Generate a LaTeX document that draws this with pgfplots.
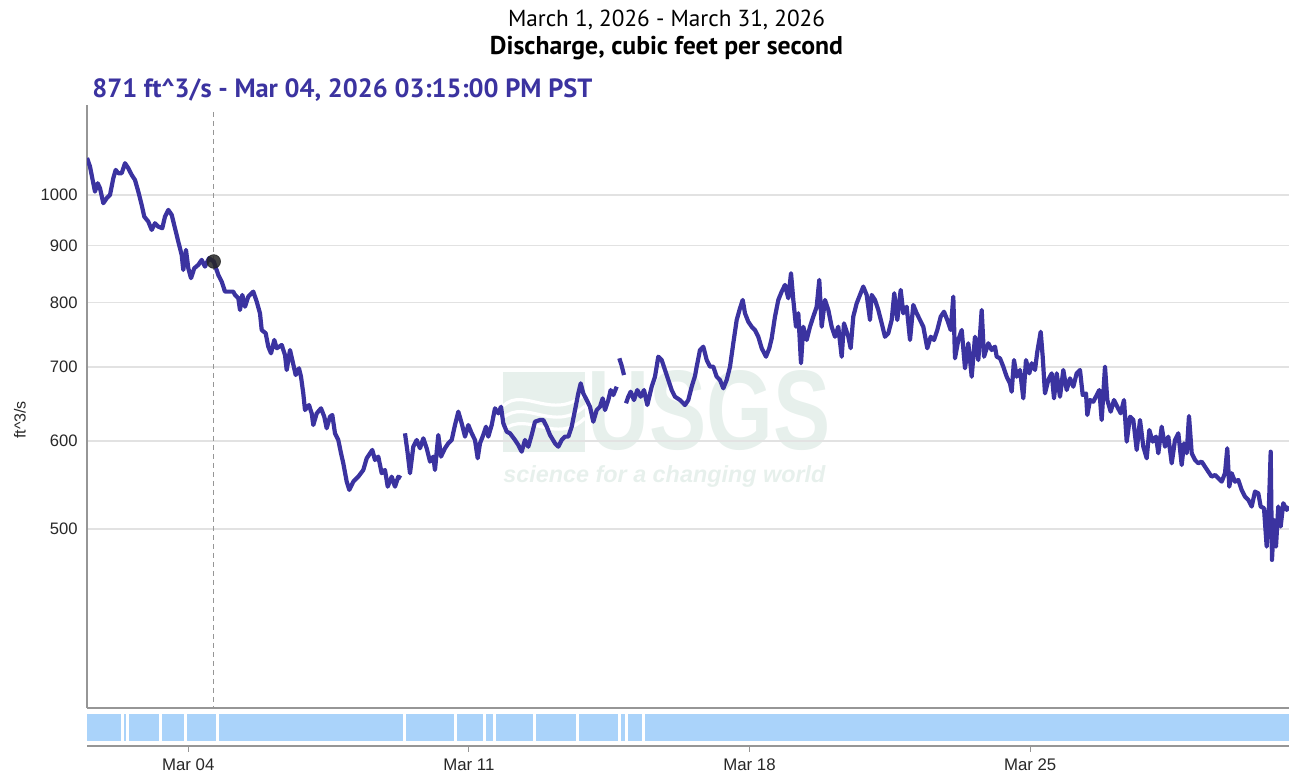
\documentclass[border=0pt]{standalone}
\usepackage{graphicx}
\usepackage{pgfplots}
\pgfplotsset{compat=1.18}
\usepackage{fontspec}
\setmainfont{Liberation Sans}
\newfontfamily\titlefont{PT Sans}
\definecolor{usgsline}{RGB}{59,51,160}
\definecolor{stripblue}{RGB}{170,211,250}
\definecolor{gridgray}{RGB}{226,226,226}
\definecolor{axisgray}{RGB}{150,150,150}
\definecolor{wm}{RGB}{231,240,236}
\definecolor{ticktext}{RGB}{40,40,40}

\begin{document}
\begin{tikzpicture}[x=1pt,y=1pt]
\path[use as bounding box] (0,0) rectangle (644.5,387);
% ---- watermark (background decoration) ----
\fill[wm] (251.5,161) rectangle (292.5,201);
\draw[white, line width=1.6pt] (251.5,184) .. controls (262,194) and (276,176) .. (292.5,190);
\draw[white, line width=1.6pt] (251.5,178) .. controls (263,188) and (277,170) .. (292.5,184);
\draw[white, line width=1.6pt] (251.5,172) .. controls (264,182) and (278,164) .. (292.5,178);
\node[anchor=south west, inner sep=0pt, text=wm] at (293.5,161.5) {\resizebox{121.5pt}{39.5pt}{\bfseries USGS}};
\node[anchor=north west, inner sep=0pt, text=wm] at (251.5,154.5) {\resizebox{161pt}{!}{\bfseries\itshape science for a changing world}};
% ---- titles ----
\node[inner sep=0pt] at (333.25,377) {\resizebox{158.5pt}{!}{\titlefont March 1, 2026 - March 31, 2026}};
\node[inner sep=0pt] at (333.25,363) {\resizebox{176.5pt}{!}{\titlefont\bfseries Discharge, cubic feet per second}};
\node[anchor=west, inner sep=0pt] at (46,342) {\resizebox{250pt}{!}{\titlefont\bfseries\color{usgsline}871 ft\textasciicircum 3/s - Mar 04, 2026 03:15:00 PM PST}};
\node[rotate=90, inner sep=0pt, text=ticktext] at (10,177) {\fontsize{8}{9.6}\selectfont ft\textasciicircum 3/s};
% ---- main axis ----
\begin{axis}[
  at={(43.5pt,33pt)}, anchor=south west,
  scale only axis, width=601pt, height=301.5pt,
  xmin=0.474, xmax=30.457,
  ymode=log, ymin=344.9, ymax=1205.3,
  ytick={500,600,700,800,900,1000},
  yticklabels={500,600,700,800,900,1000},
  yminorticks=false,
  xtick=\empty,
  axis x line*=bottom, axis y line*=left,
  axis line style={axisgray, line width=1pt},
  ymajorgrids, grid style={gridgray, line width=0.75pt},
  major tick length=0pt,
  yticklabel style={font=\fontsize{8.3}{10}\selectfont, text=ticktext, inner sep=0pt, xshift=-4.5pt},
  /pgf/number format/assume math mode=true,
  unbounded coords=jump,
]
\draw[axisgray, dash pattern=on 2.5pt off 2pt, line width=0.6pt] (axis cs:3.635,1188) -- (axis cs:3.635,344.9);
\addplot[usgsline, line width=2.1pt, line join=round, mark=none] coordinates {
(0.474,1079.8) (0.506,1071.6) (0.549,1060.6) (0.606,1035.3) (0.673,1006.9) (0.741,1024.5) (0.798,1014.0)
(0.881,983.0) (0.965,993.2) (1.048,1000.0) (1.130,1035.3) (1.190,1053.3) (1.255,1046.1) (1.339,1046.1)
(1.422,1068.1) (1.504,1057.0) (1.589,1042.4) (1.671,1031.6) (1.754,1006.9) (1.838,979.5) (1.903,956.0)
(2.003,946.2) (2.088,930.0) (2.170,943.0) (2.252,936.4) (2.352,933.3) (2.419,956.0) (2.502,969.4)
(2.587,959.4) (2.669,933.3) (2.751,907.7) (2.836,883.0) (2.876,855.9) (2.943,892.2) (3.001,858.9)
(3.068,841.4) (3.150,858.9) (3.250,864.9) (3.335,873.9) (3.417,861.8) (3.517,877.0) (3.635,871.0)
(3.749,847.1) (3.834,835.4) (3.916,818.2) (4.123,818.2) (4.166,812.6) (4.248,807.1) (4.290,787.7)
(4.348,812.6) (4.415,793.1) (4.497,809.7) (4.622,818.2) (4.707,801.4) (4.789,782.4) (4.832,755.6)
(4.931,750.5) (4.996,729.9) (5.064,719.9) (5.146,740.1) (5.206,727.5) (5.331,732.5) (5.413,717.4)
(5.455,695.4) (5.538,724.9) (5.595,710.0) (5.680,688.2) (5.762,697.9) (5.812,685.8) (5.869,662.5)
(5.912,640.0) (6.011,646.7) (6.079,635.6) (6.119,620.4) (6.204,635.6) (6.311,642.3) (6.393,631.2)
(6.453,616.2) (6.535,631.2) (6.593,633.4) (6.660,609.8) (6.742,601.4) (6.810,585.1) (6.867,573.0)
(6.952,551.6) (7.017,542.2) (7.117,551.6) (7.241,557.3) (7.366,565.1) (7.451,579.0) (7.590,589.1)
(7.658,577.0) (7.740,581.0) (7.825,561.3) (7.907,565.1) (7.975,545.9) (8.074,557.3) (8.157,545.9)
(8.239,557.3) (8.306,555.5)
(8.35,nan)
(8.406,609.8) (8.473,585.1) (8.531,561.3) (8.613,593.1) (8.698,601.4) (8.780,591.2) (8.863,603.5)
(8.947,591.2) (9.030,575.0) (9.112,581.0) (9.154,565.1) (9.237,607.7) (9.304,581.0) (9.404,591.2)
(9.486,597.3) (9.571,601.4) (9.653,620.4) (9.736,637.8) (9.820,622.6) (9.903,605.6) (9.985,620.4)
(10.070,609.8) (10.152,601.4) (10.219,579.0) (10.277,597.3) (10.359,607.7) (10.427,618.2) (10.484,605.6)
(10.569,620.4) (10.651,642.3) (10.733,635.6) (10.801,644.4) (10.858,622.6) (10.943,611.9) (11.025,609.8)
(11.150,601.4) (11.232,595.2) (11.317,587.0) (11.399,601.4) (11.482,593.1) (11.566,607.7) (11.649,624.7)
(11.773,626.9) (11.856,626.9) (11.941,618.2) (12.023,607.7) (12.148,597.3) (12.230,593.1) (12.315,601.4)
(12.397,605.6) (12.480,605.6) (12.564,618.2) (12.647,640.0) (12.729,662.5) (12.789,676.5) (12.854,662.5)
(12.938,653.4) (13.021,644.4) (13.103,624.7) (13.188,640.0) (13.270,644.4) (13.337,655.7) (13.395,640.0)
(13.477,653.4) (13.537,667.1) (13.602,660.2) (13.687,671.7)
(13.72,nan)
(13.752,712.5) (13.807,702.7) (13.869,688.2)
(13.89,nan)
(13.919,649.0) (13.976,657.9) (14.036,664.8) (14.118,653.4) (14.201,667.1) (14.285,657.9) (14.368,667.1)
(14.450,646.7) (14.560,671.7) (14.642,685.8) (14.724,714.9) (14.809,710.0) (14.891,695.4) (14.974,681.1)
(15.058,667.1) (15.141,657.9) (15.266,653.4) (15.390,646.7) (15.473,653.4) (15.557,671.7) (15.640,686.8)
(15.682,700.3) (15.764,724.9) (15.847,729.9) (15.932,710.0) (16.014,700.3) (16.096,700.3) (16.181,685.8)
(16.263,681.1) (16.346,669.5) (16.430,681.1) (16.513,700.3) (16.595,735.1) (16.680,771.5) (16.762,790.5)
(16.830,804.2) (16.887,782.4) (16.969,768.8) (17.054,760.8) (17.136,755.6) (17.219,745.2) (17.304,727.5)
(17.411,714.9) (17.493,727.5) (17.553,742.7) (17.635,776.9) (17.718,804.2) (17.802,818.2) (17.885,829.7)
(17.967,807.1) (18.035,850.1) (18.092,804.2) (18.159,760.8) (18.217,782.4) (18.284,705.2) (18.341,760.8)
(18.426,740.1) (18.508,760.8) (18.591,776.9) (18.675,793.1) (18.740,838.4) (18.800,760.8) (18.882,804.2)
(18.965,787.7) (19.049,760.8) (19.132,745.2) (19.214,760.8) (19.299,714.9) (19.356,766.2) (19.464,745.2)
(19.523,727.5) (19.588,776.9) (19.673,798.7) (19.755,812.6) (19.837,826.8) (19.922,812.6) (20.005,771.5)
(20.047,812.6) (20.130,804.2) (20.212,787.7) (20.297,766.2) (20.379,745.2) (20.461,750.5) (20.546,771.5)
(20.611,815.5) (20.686,771.5) (20.771,821.1) (20.836,782.4) (20.920,793.1) (21.003,740.1) (21.085,795.9)
(21.170,782.4) (21.252,771.5) (21.335,760.8) (21.434,727.5) (21.519,745.2) (21.601,740.1) (21.684,755.6)
(21.769,776.9) (21.851,784.9) (21.933,771.5) (22.018,755.6) (22.083,809.7) (22.125,712.5) (22.208,740.1)
(22.293,755.6) (22.375,697.9) (22.457,735.1) (22.542,685.8) (22.624,745.2) (22.707,710.0) (22.791,787.7)
(22.849,714.9) (22.956,735.1) (23.041,724.9) (23.123,729.9) (23.165,714.9) (23.248,712.5) (23.330,700.3)
(23.415,685.8) (23.497,676.5) (23.539,664.8) (23.597,710.0) (23.664,685.8) (23.747,695.4) (23.829,655.7)
(23.896,710.0) (23.979,690.6) (24.039,705.2) (24.121,695.4) (24.178,722.3) (24.263,752.9) (24.313,714.9)
(24.370,662.5) (24.452,681.1) (24.537,690.6) (24.595,655.7) (24.662,690.6) (24.744,657.9) (24.827,695.4)
(24.911,667.1) (24.994,683.5) (25.076,671.7) (25.161,690.6) (25.243,695.4) (25.311,660.2) (25.393,662.5)
(25.426,633.4) (25.493,653.4) (25.575,651.1) (25.660,660.2) (25.725,667.1) (25.784,626.9) (25.867,700.3)
(25.924,653.4) (26.009,637.8) (26.091,653.4) (26.174,644.4) (26.258,635.6) (26.341,653.4) (26.408,599.3)
(26.491,631.2) (26.573,626.9) (26.658,589.1) (26.740,626.9) (26.823,593.1) (26.907,579.0) (26.972,614.0)
(27.057,599.3) (27.139,605.6) (27.197,585.1) (27.281,618.2) (27.364,593.1) (27.446,605.6) (27.531,573.0)
(27.613,601.4) (27.696,609.8) (27.780,571.0) (27.838,597.3) (27.905,585.1) (27.962,632.1) (28.030,585.1)
(28.112,577.0) (28.194,573.0) (28.279,575.0) (28.361,569.0) (28.444,563.1) (28.528,557.3) (28.611,559.3)
(28.693,555.5) (28.778,551.6) (28.860,561.3) (28.917,591.2) (28.967,545.9) (29.027,561.3) (29.109,551.6)
(29.192,553.5) (29.276,542.2) (29.359,534.7) (29.441,531.1) (29.526,523.8) (29.608,540.3) (29.691,538.4)
(29.750,523.8) (29.833,522.0) (29.900,482.0) (29.950,516.6) (30.000,587.0) (30.032,468.9) (30.082,509.5)
(30.132,482.0) (30.189,523.8) (30.249,502.5) (30.314,527.5) (30.399,520.2) (30.456,523.8)
};
\addplot[only marks, mark=*, mark size=3.4pt, mark options={fill=black!85, draw=black!85, fill opacity=0.85, draw opacity=0.85}] coordinates {(3.635,871.0)};
\end{axis}
% ---- approval strip ----
\begin{axis}[
  at={(43.5pt,14pt)}, anchor=south west,
  scale only axis, width=601pt, height=16pt,
  xmin=0.474, xmax=30.457, ymin=0, ymax=1,
  axis x line*=bottom, axis y line=none,
  x axis line style={axisgray, line width=1pt},
  xtick={3,10,17,24},
  xticklabels={Mar 04, Mar 11, Mar 18, Mar 25},
  tick align=outside, major tick length=3pt,
  tick style={axisgray, line width=0.6pt},
  xticklabel style={font=\fontsize{8.4}{10}\selectfont, text=ticktext},
  ytick=\empty,
  unbounded coords=jump,
  clip=false,
]
\addplot[fill=stripblue, draw=none] coordinates {(0.474,0.156) (30.457,0.156) (30.457,1) (0.474,1)} -- cycle;
\addplot[white, line width=1.5pt] coordinates {
(1.359,0.156) (1.359,1) (1.40,nan)
(1.487,0.156) (1.487,1) (1.50,nan)
(2.310,0.156) (2.310,1) (2.40,nan)
(2.943,0.156) (2.943,1) (3.00,nan)
(3.724,0.156) (3.724,1) (3.80,nan)
(8.396,0.156) (8.396,1) (8.50,nan)
(9.663,0.156) (9.663,1) (9.70,nan)
(10.377,0.156) (10.377,1) (10.40,nan)
(10.644,0.156) (10.644,1) (10.70,nan)
(11.624,0.156) (11.624,1) (11.70,nan)
(12.701,0.156) (12.701,1) (12.80,nan)
(13.769,0.156) (13.769,1) (13.80,nan)
(13.939,0.156) (13.939,1) (14.00,nan)
(14.365,0.156) (14.365,1)
};
\end{axis}
\end{tikzpicture}
\end{document}
